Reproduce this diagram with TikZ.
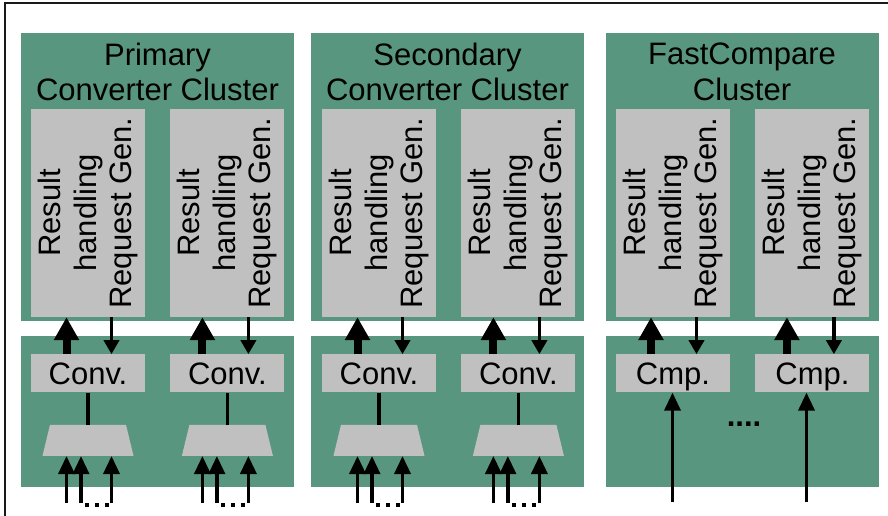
\documentclass[tikz,border=0pt]{standalone}
\usepackage{fontspec}
\setmainfont{Liberation Sans}
\usetikzlibrary{positioning, calc, arrows.meta}
\definecolor{clPanel}{RGB}{89,150,128}
\definecolor{clUnit} {RGB}{192,192,192}
\definecolor{clFrame}{RGB}{25,25,25}
\tikzset{
  base/.style={
    font=\fontsize{31}{35.5}\selectfont, text=black, inner sep=0pt
  },
  panel/.style={
    rectangle, fill=clPanel, minimum width=273pt
  },
  title/.style={
    base, align=center
  },
  worker/.style={
    rectangle, fill=clUnit,
    minimum width=114pt, minimum height=208pt
  },
  vtext/.style={
    base, align=center, rotate=90
  },
  conv/.style={
    base, rectangle, fill=clUnit,
    minimum width=114pt, minimum height=38pt,
    text height=22pt, text depth=0pt
  },
  mux/.style={
    rectangle, minimum width=91pt, minimum height=31pt, inner sep=0pt,
    path picture={
      \fill [clUnit] (path picture bounding box.south west)
        -- (path picture bounding box.south east)
        -- ([xshift=-7.5pt]path picture bounding box.north east)
        -- ([xshift=7.5pt]path picture bounding box.north west) -- cycle;
    }
  },
  resarr/.style={
    -{Triangle[length=23pt, width=24pt]}, line width=8pt
  },
  reqarr/.style={
    -{Triangle[length=14pt, width=15pt]}, line width=3.5pt
  },
  inarr/.style={
    -{Triangle[length=18pt, width=16pt]}, line width=3.5pt
  },
  wire/.style={line width=3.5pt},
  more/.style={line width=4pt, dash pattern=on 4pt off 6pt},
  frame/.style={line width=1.5pt, draw=clFrame}
}

\begin{document}
\begin{tikzpicture}[x=1pt, y=-1pt]
    \useasboundingbox (0,0) rectangle (888,516);
    \draw [frame] (5,516) -- (5,3) -- (888,3);

    % ============================================================
    % CLUSTER PANELS
    % ============================================================
    \node (p1top) [panel, minimum height=288pt] at (157.5,177) {};
    \node (p1bot) [panel, minimum height=151pt, below=15pt of p1top] {};
    \node (p2top) [panel, minimum height=288pt] at (447.5,177) {};
    \node (p2bot) [panel, minimum height=151pt, below=15pt of p2top] {};
    \node (p3top) [panel, minimum height=288pt] at (742,177) {};
    \node (p3bot) [panel, minimum height=151pt, below=15pt of p3top] {};

    \node (t1) [title, below=10pt of p1top.north] {Primary\\Converter Cluster};
    \node (t2) [title, below=10pt of p2top.north] {Secondary\\Converter Cluster};
    \node (t3) [title, below=10pt of p3top.north] {FastCompare\\Cluster};

    % ============================================================
    % WORKERS
    % ============================================================
    \node (w1) [worker] at (88,213) {};
    \node (w2) [worker, right=25pt of w1] {};
    \node (w3) [worker] at (379,213) {};
    \node (w4) [worker, right=25pt of w3] {};
    \node (w5) [worker] at (673,213) {};
    \node (w6) [worker, right=25pt of w5] {};
    \foreach \u in {1,...,6}
      \node (w\u txt) [vtext] at (w\u) {Result\\handling\\Request Gen.};

    \node (c1) [conv, below=37pt of w1] {Conv.};
    \node (c2) [conv, below=37pt of w2] {Conv.};
    \node (c3) [conv, below=37pt of w3] {Conv.};
    \node (c4) [conv, below=37pt of w4] {Conv.};
    \node (c5) [conv, below=37pt of w5] {Cmp.};
    \node (c6) [conv, below=37pt of w6] {Cmp.};

    \node (m1) [mux, below=32pt of c1] {};
    \node (m2) [mux, below=32pt of c2] {};
    \node (m3) [mux, below=32pt of c3] {};
    \node (m4) [mux, below=32pt of c4] {};

    \node (gap) [base, font=\fontsize{31}{35.5}\selectfont\bfseries] at (744,424) {....};

    % ============================================================
    % CONNECTIONS
    % ============================================================
    % results up (fat), requests down (thin)
    \foreach \u/\xa/\xc in {1/-21.5/23.5, 2/-25/21, 3/-21.5/23.5,
                            4/-25/21, 5/-22/23.5, 6/-25.5/21.5} {
      \draw [resarr] ([xshift=\xa pt]c\u.north) -- ([xshift=\xa pt]w\u.south);
      \draw [reqarr] ([xshift=\xc pt]w\u.south) -- ([xshift=\xc pt]c\u.north);
    }

    % converter inputs through the mux
    \foreach \u/\xa/\xb/\xc in {1/-21.5/-7/23.5, 2/-25/-10.5/21,
                                3/-21.5/-7/23.5, 4/-25/-10.5/21} {
      \coordinate (i\u) at ($(m\u.south)+(0,47)$);
      \draw [wire] (c\u) -- (m\u);
      \draw [inarr] ([xshift=\xa pt]i\u) -- ([xshift=\xa pt]i\u |- m\u.south);
      \draw [inarr] ([xshift=\xb pt]i\u) -- ([xshift=\xb pt]i\u |- m\u.south);
      \draw [inarr] ([xshift=\xc pt]i\u) -- ([xshift=\xc pt]i\u |- m\u.south);
      \draw [more] ([xshift=\xb pt+4pt, yshift=-2pt]i\u) -- ([xshift=\xc pt-2pt, yshift=-2pt]i\u);
    }

    % compare inputs
    \coordinate (i5) at (672.5,502);
    \coordinate (i6) at (806.5,502);
    \draw [inarr] (i5) -- (i5 |- c5.south);
    \draw [inarr] (i6) -- (i6 |- c6.south);

\end{tikzpicture}
\end{document}
